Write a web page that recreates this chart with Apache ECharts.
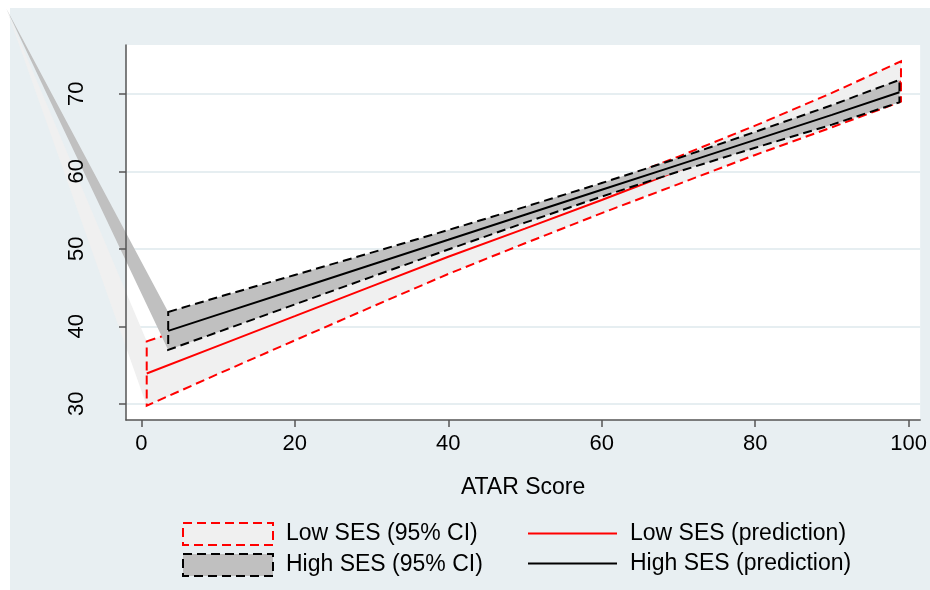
<!DOCTYPE html>
<html>
<head>
<meta charset="utf-8">
<script src="https://cdn.jsdelivr.net/npm/echarts@6/dist/echarts.min.js"></script>
<style>
html,body{margin:0;padding:0;background:#fff;}
#chart{width:930px;height:590px;}
</style>
</head>
<body>
<div id="chart"></div>
<script>
// ---- data ----
const xTicks = [0, 20, 40, 60, 80, 100];
const yTicks = [30, 40, 50, 60, 70];

const lowX     = [0.7, 10, 20, 30, 40, 50, 60, 70, 80, 90, 99.0];
const lowPred  = [33.9, 37.47, 41.3, 45.14, 48.97, 52.6, 56.3, 60.1, 64.0, 67.9, 71.6];
const lowUpper = [38.05, 41.1, 44.42, 47.79, 51.19, 54.49, 58.05, 61.9, 65.89, 70.12, 74.2];
const lowLower = [29.75, 33.84, 38.18, 42.49, 46.75, 50.71, 54.6, 58.35, 62.11, 65.68, 69.0];

const highX     = [3.5, 10, 20, 30, 40, 50, 60, 70, 80, 90, 98.8];
const highPred  = [39.4, 41.5, 44.72, 47.94, 51.16, 54.39, 57.61, 60.83, 64.06, 67.28, 70.2];
const highUpper = [41.85, 43.75, 46.62, 49.5, 52.42, 55.41, 58.48, 61.7, 65.08, 68.54, 71.8];
const highLower = [36.95, 39.25, 42.82, 46.38, 49.9, 53.37, 56.74, 59.96, 63.04, 66.02, 68.9];

// stray vertex of the shaded areas in the original graph (top-left artefact)
const ciStrayVertex = [-17.6, 81.0];

const names = {
  lowCI: 'Low SES (95% CI)',
  highCI: 'High SES (95% CI)',
  lowLine: 'Low SES (prediction)',
  highLine: 'High SES (prediction)'
};

const FONT = '"Liberation Sans", Arial, Helvetica, sans-serif';

function ciRender(xs, lo, hi, fill, stroke) {
  return function (params, api) {
    if (params.dataIndex !== 0) return null;
    const up = xs.map((x, i) => api.coord([x, hi[i]]));
    const dn = xs.map((x, i) => api.coord([x, lo[i]])).reverse();
    const apex = api.coord(ciStrayVertex);
    return {
      type: 'group',
      children: [
        { type: 'polygon', shape: { points: [apex].concat(up, dn) },
          style: { fill: fill, stroke: null } },
        { type: 'polygon', shape: { points: up.concat(dn) },
          style: { fill: null, stroke: stroke, lineWidth: 2, lineDash: [9, 5] } }
      ]
    };
  };
}

const chart = echarts.init(document.getElementById('chart'), null, { renderer: 'canvas' });

const axisLineStyle = { color: '#555', width: 1.5 };
const lineIcon = 'path://M0 0H89V2H0Z';

chart.setOption({
  backgroundColor: '#ffffff',
  animation: false,
  textStyle: { fontFamily: FONT },
  graphic: [{
    type: 'rect', z: -100, zlevel: 0, silent: true,
    shape: { x: 10, y: 8, width: 920, height: 582 },
    style: { fill: '#e8eff2' }
  }],
  grid: {
    left: 126, right: 9, top: 45, bottom: 170,
    show: true, backgroundColor: '#ffffff', borderWidth: 0
  },
  xAxis: {
    type: 'value', min: -2, max: 101.5, z: 10,
    axisLine: { show: true, onZero: false, lineStyle: axisLineStyle },
    axisTick: { show: true, length: 7, customValues: xTicks, lineStyle: axisLineStyle },
    axisLabel: { customValues: xTicks, fontSize: 22, color: '#000', margin: 13, fontFamily: FONT },
    splitLine: { show: false },
    name: 'ATAR Score', nameLocation: 'middle', nameGap: 56,
    nameTextStyle: { fontSize: 23, color: '#000', fontFamily: FONT }
  },
  yAxis: [{
    type: 'value', min: 27.9, max: 76.3, position: 'left', z: 10,
    axisLine: { show: true, onZero: false, lineStyle: axisLineStyle },
    axisTick: { show: true, length: 7, customValues: yTicks, lineStyle: axisLineStyle },
    axisLabel: { customValues: yTicks, rotate: 90, fontSize: 22, color: '#000', margin: 38, fontFamily: FONT },
    splitLine: { show: false }
  }, {
    type: 'value', min: 27.9, max: 76.3, position: 'left', z: 0,
    axisLine: { show: false, onZero: false },
    axisTick: { show: false, customValues: yTicks },
    axisLabel: { show: false, customValues: yTicks },
    splitLine: { show: true, lineStyle: { color: '#e6eef1', width: 2 } }
  }],
  legend: [{
    orient: 'vertical', left: 182, top: 522, padding: 0,
    itemWidth: 90, itemHeight: 22, itemGap: 7,
    textStyle: { fontSize: 23, color: '#000', fontFamily: FONT, padding: [0, 0, 0, 8] },
    data: [
      { name: names.lowCI, icon: 'rect',
        itemStyle: { color: '#f0f0f0', borderColor: '#ff0000', borderWidth: 2, borderType: [9, 5] } },
      { name: names.highCI, icon: 'rect',
        itemStyle: { color: '#c0c0c0', borderColor: '#000000', borderWidth: 2, borderType: [9, 5] } }
    ]
  }, {
    orient: 'vertical', left: 528, top: 522, padding: 0,
    itemWidth: 89, itemHeight: 22, itemGap: 7,
    textStyle: { fontSize: 23, color: '#000', fontFamily: FONT, padding: [0, 0, 0, 8] },
    data: [
      { name: names.lowLine, icon: lineIcon, itemStyle: { color: '#ff0000' } },
      { name: names.highLine, icon: lineIcon, itemStyle: { color: '#000000' } }
    ]
  }],
  series: [{
    name: names.lowCI, type: 'custom', z: 2, clip: false,
    itemStyle: { color: '#f0f0f0', borderColor: '#ff0000' },
    renderItem: ciRender(lowX, lowLower, lowUpper, '#f0f0f0', '#ff0000'),
    encode: { x: 0, y: [1, 2] },
    data: lowX.map((x, i) => [x, lowLower[i], lowUpper[i]])
  }, {
    name: names.lowLine, type: 'line', z: 3, symbol: 'none', showSymbol: false,
    lineStyle: { color: '#ff0000', width: 2 }, itemStyle: { color: '#ff0000' },
    data: lowX.map((x, i) => [x, lowPred[i]])
  }, {
    name: names.highCI, type: 'custom', z: 4, clip: false,
    itemStyle: { color: '#c0c0c0', borderColor: '#000' },
    renderItem: ciRender(highX, highLower, highUpper, '#c0c0c0', '#000000'),
    encode: { x: 0, y: [1, 2] },
    data: highX.map((x, i) => [x, highLower[i], highUpper[i]])
  }, {
    name: names.highLine, type: 'line', z: 5, symbol: 'none', showSymbol: false,
    lineStyle: { color: '#000000', width: 2 }, itemStyle: { color: '#000000' },
    data: highX.map((x, i) => [x, highPred[i]])
  }]
});
</script>
</body>
</html>
